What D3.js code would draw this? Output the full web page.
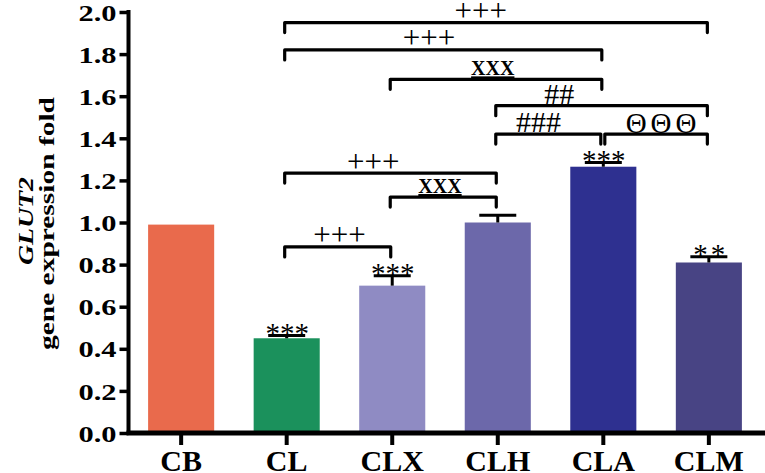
<!DOCTYPE html>
<html>
<head>
<meta charset="utf-8">
<script src="https://cdn.jsdelivr.net/npm/d3@7"></script>
<style>
html,body{margin:0;padding:0;background:#fff;}
svg{display:block;}
text{font-family:"Liberation Serif","Times New Roman",serif;fill:#000;}
</style>
</head>
<body>
<script>
// ---- data ----
const categories = ["CB", "CL", "CLX", "CLH", "CLA", "CLM"];
const values = [0.99, 0.45, 0.70, 1.00, 1.265, 0.81];
const errors = [0, 0.013, 0.047, 0.035, 0.02, 0.027];
const stars = ["", "***", "***", "", "***", "**"];
const barColors = ["#E96A4C", "#1B915C", "#8F8BC3", "#6C68AA", "#2E3090", "#484484"];
const yTicks = [0, 0.2, 0.4, 0.6, 0.8, 1.0, 1.2, 1.4, 1.6, 1.8, 2.0];
const bracketFrom = ["CL", "CL", "CLX", "CLH", "CLH", "CLA", "CL", "CLX", "CL"];
const bracketTo = ["CLM", "CLA", "CLA", "CLM", "CLA", "CLM", "CLH", "CLH", "CLX"];
const bracketLevel = [1.95, 1.82, 1.68, 1.555, 1.42, 1.42, 1.235, 1.121, 0.884];
const bracketLabel = ["+++", "+++", "XXX", "##", "###", "ΘΘΘ", "+++", "XXX", "+++"];
// label nudges (layout only)
const labelNudge = [-17, -16, -5, -44, -12, 5, -19, -5, 0];

const W = 765, H = 473;
const svg = d3.select("body").append("svg").attr("width", W).attr("height", H);

const x = d3.scaleBand().domain(categories).range([127, 763])
  .paddingInner(0.374).paddingOuter(0.2);
const y = d3.scaleLinear().domain([0, 2]).range([433, 12]);
const cx = c => x(c) + x.bandwidth() / 2;

// bars
svg.append("g").selectAll("rect").data(categories).join("rect")
  .attr("x", d => x(d)).attr("width", x.bandwidth())
  .attr("y", (d, i) => y(values[i]))
  .attr("height", (d, i) => y(0) - y(values[i]))
  .attr("fill", (d, i) => barColors[i]);

// error bars
const eg = svg.append("g").attr("stroke", "#000").attr("stroke-width", 3);
categories.forEach((c, i) => {
  if (!errors[i]) return;
  const top = y(values[i] + errors[i]);
  eg.append("line").attr("x1", cx(c)).attr("x2", cx(c))
    .attr("y1", y(values[i])).attr("y2", top);
  eg.append("line").attr("x1", cx(c) - 18.5).attr("x2", cx(c) + 18.5)
    .attr("y1", top).attr("y2", top);
});

// stars
svg.append("g").selectAll("text").data(categories).join("text")
  .attr("x", d => cx(d) + 0.5)
  .attr("y", (d, i) => y(values[i] + errors[i]) + 7)
  .attr("text-anchor", "middle")
  .attr("font-size", 29)
  .style("letter-spacing", (d, i) => stars[i].length === 2 ? "3px" : "0px")
  .attr("dx", (d, i) => stars[i].length === 2 ? 1.5 : 0)
  .text((d, i) => stars[i]);

// brackets
const bg = svg.append("g");
bracketFrom.forEach((f, i) => {
  const t = bracketTo[i];
  const by = y(bracketLevel[i]);
  let l = cx(f) - 2, r = cx(t) - 1.5;
  bracketFrom.forEach((f2, j) => {
    if (j !== i && bracketLevel[j] === bracketLevel[i]) {
      if (bracketTo[j] === f) l = cx(f) + 1.5;
      if (f2 === t) r = cx(t) - 2.5;
    }
  });
  bg.append("path")
    .attr("d", `M${l},${by + 10}V${by}H${r}V${by + 10}`)
    .attr("fill", "none").attr("stroke", "#000").attr("stroke-width", 3.2)
    .attr("stroke-linecap", "round").attr("stroke-linejoin", "round");
  const lab = bracketLabel[i];
  const mid = (cx(f) + cx(t)) / 2 + labelNudge[i];
  const tx = bg.append("text").attr("x", mid).attr("text-anchor", "middle").text(lab);
  if (lab[0] === "+") {
    tx.attr("y", by - 1.5).attr("font-size", 31);
  } else if (lab[0] === "X") {
    tx.attr("y", by - 4).attr("font-size", 20).attr("font-weight", "bold")
      .style("text-decoration", "underline");
  } else if (lab[0] === "#") {
    tx.attr("y", by - 2).attr("font-size", 30);
  } else {
    tx.attr("y", by - 1.5).attr("font-size", 29).style("letter-spacing", "4px").attr("dx", 2);
  }
});

// y axis
const yAxis = d3.axisLeft(y).tickValues(yTicks).tickFormat(d3.format(".1f"))
  .tickSize(9).tickSizeOuter(0).tickPadding(3);
const yg = svg.append("g").attr("transform", "translate(128.5,0)").call(yAxis);
yg.select(".domain").attr("stroke", "#000").attr("stroke-width", 4)
  .attr("d", `M0,${y(0)}V${y(2) - 2}`);
yg.selectAll(".tick line").attr("stroke", "#000").attr("stroke-width", 3.5);
yg.selectAll(".tick text").attr("font-size", 24).attr("font-weight", "bold")
  .attr("textLength", 38).attr("lengthAdjust", "spacingAndGlyphs")
  .attr("dy", "0.34em");

// x axis
const xAxis = d3.axisBottom(x).tickSize(12).tickSizeOuter(0).tickPadding(5);
const xg = svg.append("g").attr("transform", `translate(0,${y(0)})`).call(xAxis);
xg.select(".domain").attr("stroke", "#000").attr("stroke-width", 5)
  .attr("d", `M126.5,0H765`);
xg.selectAll(".tick line").attr("stroke", "#000").attr("stroke-width", 4);
xg.selectAll(".tick text").attr("font-size", 30).attr("font-weight", "bold")
  .attr("dy", "0.71em");

// y title
const yt = svg.append("g");
yt.append("text").attr("transform", "translate(33,221) rotate(-90)")
  .attr("text-anchor", "middle").attr("font-size", 20)
  .attr("font-weight", "bold").attr("font-style", "italic")
  .attr("textLength", 88).attr("lengthAdjust", "spacingAndGlyphs")
  .text("GLUT2");
yt.append("text").attr("transform", "translate(54,223.5) rotate(-90)")
  .attr("text-anchor", "middle").attr("font-size", 20)
  .attr("font-weight", "bold")
  .attr("textLength", 253).attr("lengthAdjust", "spacingAndGlyphs")
  .text("gene expression fold");
</script>
</body>
</html>
